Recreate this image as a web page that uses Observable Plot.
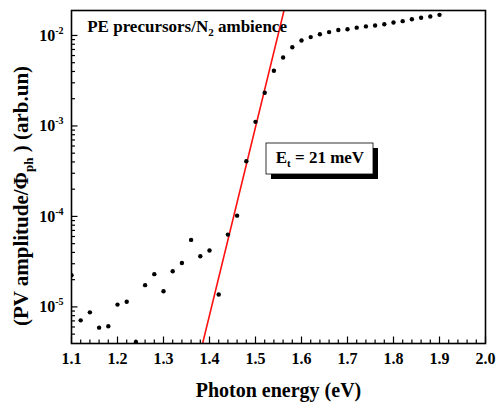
<!DOCTYPE html>
<html>
<head>
<meta charset="utf-8">
<script src="https://cdn.jsdelivr.net/npm/d3@7"></script>
<script src="https://cdn.jsdelivr.net/npm/@observablehq/plot@0.6"></script>
<style>
  html, body { margin: 0; padding: 0; background: #fff; }
</style>
</head>
<body>
<div id="chart"></div>
<script>
// ---- data ----
const energy = [1.10,1.12,1.14,1.16,1.18,1.20,1.22,1.24,1.26,1.28,1.30,1.32,1.34,1.36,1.38,1.40,1.42,1.44,1.46,1.48,
                1.50,1.52,1.54,1.56,1.58,1.60,1.62,1.64,1.66,1.68,1.70,1.72,1.74,1.76,1.78,1.80,1.82,1.84,1.86,1.88,1.90];
const pvAmplitude = [2.24e-5,7.1e-6,8.7e-6,5.9e-6,6.1e-6,1.06e-5,1.14e-5,4.1e-6,1.74e-5,2.3e-5,1.49e-5,2.48e-5,3.06e-5,5.5e-5,3.63e-5,4.2e-5,1.37e-5,6.3e-5,1.02e-4,4.07e-4,
                     1.11e-3,2.33e-3,4.08e-3,5.7e-3,7.4e-3,8.8e-3,9.6e-3,1.03e-2,1.09e-2,1.15e-2,1.17e-2,1.22e-2,1.26e-2,1.29e-2,1.33e-2,1.39e-2,1.44e-2,1.51e-2,1.57e-2,1.62e-2,1.69e-2];
const fitEnergy = [1.38, 1.57];
const fitAmplitude = [3.1e-6, 2.77e-2];
const xMajorTicks = [1.1,1.2,1.3,1.4,1.5,1.6,1.7,1.8,1.9,2.0];
const xMinorTicks = [1.12,1.14,1.16,1.18,1.22,1.24,1.26,1.28,1.32,1.34,1.36,1.38,1.42,1.44,1.46,1.48,
                     1.52,1.54,1.56,1.58,1.62,1.64,1.66,1.68,1.72,1.74,1.76,1.78,1.82,1.84,1.86,1.88,1.92,1.94,1.96,1.98];
const yMajorTicks = [1e-5, 1e-4, 1e-3, 1e-2];
const yMinorTicks = [5e-6,6e-6,7e-6,8e-6,9e-6,
                     2e-5,3e-5,4e-5,5e-5,6e-5,7e-5,8e-5,9e-5,
                     2e-4,3e-4,4e-4,5e-4,6e-4,7e-4,8e-4,9e-4,
                     2e-3,3e-3,4e-3,5e-3,6e-3,7e-3,8e-3,9e-3];
const titleText = "PE precursors/N2 ambience";
const xLabel = "Photon energy (eV)";
const yLabel = "(PV amplitude/Φph ) (arb.un)";

const points = energy.map((e, i) => ({e, v: pvAmplitude[i]}));
const fit = fitEnergy.map((e, i) => ({e, v: fitAmplitude[i]}));

const serif = "'Liberation Serif', 'Times New Roman', serif";

const chart = Plot.plot({
  width: 499,
  height: 405,
  marginLeft: 71,
  marginRight: 14,
  marginTop: 10,
  marginBottom: 62,
  style: {fontFamily: serif, fontWeight: "bold", fontSize: "16px", background: "#fff", color: "#000", overflow: "visible"},
  x: {domain: [1.1, 2.0]},
  y: {type: "log", domain: [3.94e-6, 1.888e-2]},
  marks: [
    Plot.line(fit, {x: "e", y: "v", stroke: "#ff1010", strokeWidth: 1.6, clip: true}),
    Plot.dot(points, {x: "e", y: "v", r: 2.2, fill: "#000", stroke: "none", clip: true}),
    Plot.axisX({ticks: xMinorTicks, tickSize: -3.5, fill: "none", label: null, strokeWidth: 1.2}),
    Plot.axisX({ticks: xMajorTicks, tickSize: -6.5, fill: "none", label: null, strokeWidth: 1.2}),
    Plot.axisX({ticks: xMajorTicks, tickSize: 0, tickPadding: 9, tickFormat: d => d.toFixed(1), label: null, fontSize: 16, fontFamily: serif, fontWeight: "bold"}),
    Plot.axisY({ticks: yMinorTicks, tickSize: -4, fill: "none", label: null, strokeWidth: 1.2}),
    Plot.axisY({ticks: yMajorTicks, tickSize: -6.5, fill: "none", label: null, strokeWidth: 1.2}),
    Plot.axisY({ticks: yMajorTicks, tickSize: 0, tickPadding: 8, tickFormat: d => "10^" + Math.round(Math.log10(d)), label: null, fontSize: 16, fontFamily: serif, fontWeight: "bold"}),
    Plot.frame({stroke: "#000", strokeWidth: 1.6}),
    Plot.text([titleText], {frameAnchor: "top-left", lineAnchor: "middle", dx: 15.7, dy: 16.3, textAnchor: "start", fontSize: 17}),
    Plot.text([xLabel], {frameAnchor: "bottom", lineAnchor: "middle", dy: 46.6, fontSize: 20})
  ]
});

document.getElementById("chart").appendChild(chart);

const svg = d3.select(chart.tagName.toLowerCase() === "svg" ? chart : chart.querySelector("svg"));

// rich text (sub/superscripts) helper
function rich(match, parts) {
  svg.selectAll("text").filter(function () { return this.textContent === match; }).each(function () {
    const t = d3.select(this);
    t.text(null);
    for (const p of parts) {
      const ts = t.append("tspan").text(p.s);
      if (p.size) ts.attr("font-size", p.size);
      if (p.dy) ts.attr("dy", p.dy);
    }
  });
}

// y tick labels: 10 with superscript exponent
svg.selectAll("text").filter(function () { return /^10\^/.test(this.textContent); }).each(function () {
  const exp = this.textContent.slice(3).replace("−", "-");
  const t = d3.select(this);
  t.text(null);
  t.append("tspan").text("10");
  t.append("tspan").text(exp).attr("font-size", 10).attr("dy", -7);
});

rich(titleText, [{s: "PE precursors/N"}, {s: "2", size: 11, dy: 4}, {s: " ambience", dy: -4}]);

// rotated y-axis title
const yt = svg.append("text")
  .attr("transform", "translate(28,196) rotate(-90)")
  .attr("text-anchor", "middle")
  .attr("font-family", serif).attr("font-weight", "bold").attr("font-size", 21).attr("fill", "#000");
yt.append("tspan").text("(PV amplitude/Φ");
yt.append("tspan").text("ph").attr("font-size", 13).attr("dy", 5);
yt.append("tspan").text(" ) (arb.un)").attr("dy", -5);

// annotation box with shadow: Et = 21 meV
const boxX = 266, boxY = 143, boxW = 107, boxH = 31, shadow = 5;
const g = svg.append("g").attr("aria-label", "annotation");
g.append("rect").attr("x", boxX + shadow).attr("y", boxY + shadow).attr("width", boxW).attr("height", boxH).attr("fill", "#000");
g.append("rect").attr("x", boxX).attr("y", boxY).attr("width", boxW).attr("height", boxH)
  .attr("fill", "#fff").attr("stroke", "#000").attr("stroke-width", 0.8);
const bt = g.append("text").attr("x", boxX + 9.7).attr("y", 163).attr("text-anchor", "start")
  .attr("font-family", serif).attr("font-weight", "bold").attr("font-size", 17).attr("fill", "#000");
bt.append("tspan").text("E");
bt.append("tspan").text("t").attr("font-size", 11).attr("dy", 4);
bt.append("tspan").text(" = 21 meV").attr("dy", -4);
</script>
</body>
</html>
